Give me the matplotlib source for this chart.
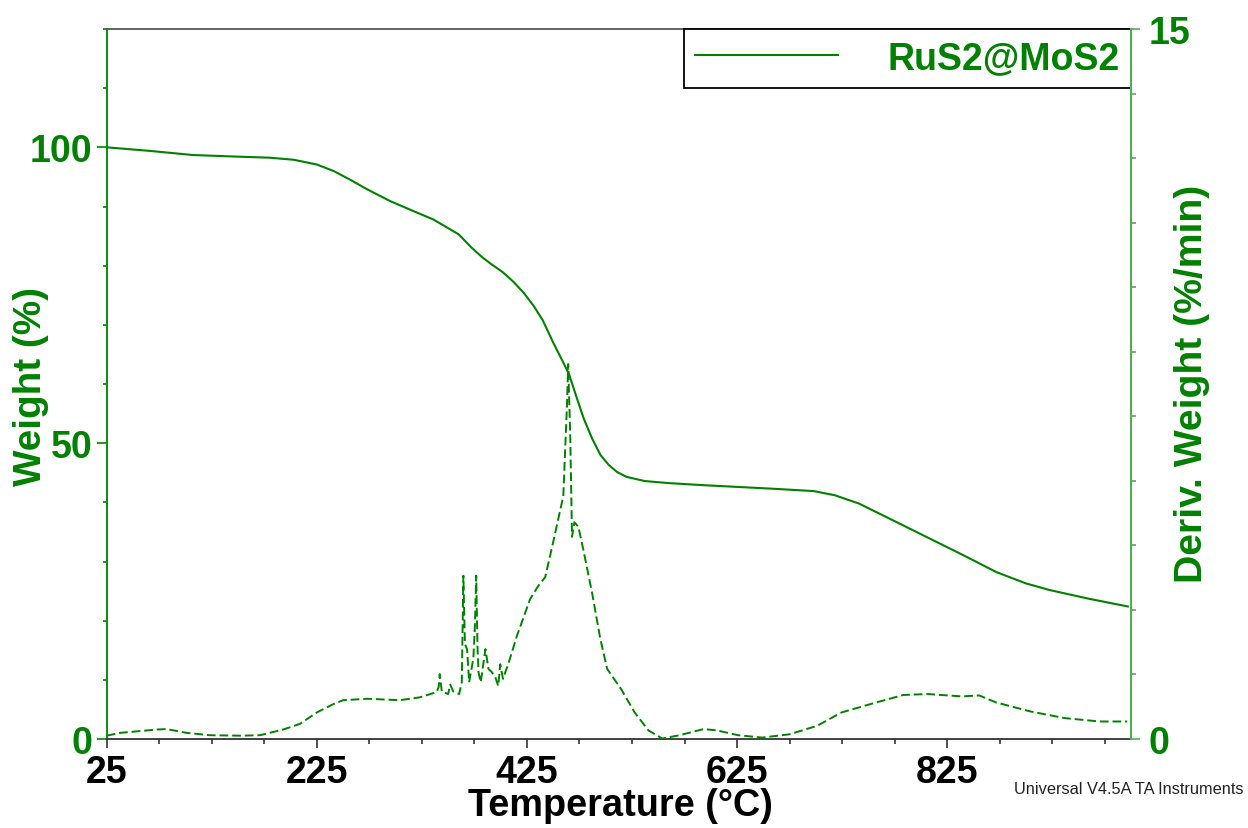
import matplotlib
matplotlib.use("Agg")
import matplotlib.pyplot as plt
import numpy as np

plt.rcParams['font.family'] = ['Liberation Sans', 'DejaVu Sans']

GREEN = '#008000'
LIGHT_GREEN = '#55aa55'

# ---- data ----
temp_w = [25, 66, 107, 146, 180, 203, 225, 241, 257, 273, 295, 316, 336, 360,
          372, 382, 390, 402, 412, 422, 431, 440, 450, 458, 465, 472, 479, 487,
          495, 503, 511, 520, 537, 560, 593, 659, 698, 718, 741, 765, 790, 815,
          840, 872, 900, 922, 960, 997]
weight = [100, 99.4, 98.7, 98.45, 98.25, 97.9, 97.1, 96.0, 94.5, 92.9, 90.9, 89.3,
          87.8, 85.3, 83.1, 81.5, 80.4, 78.9, 77.3, 75.4, 73.3, 70.8, 67.0, 64.2,
          61.7, 57.9, 54.2, 50.8, 48.0, 46.3, 45.1, 44.3, 43.6, 43.25, 42.9, 42.3,
          41.9, 41.2, 39.8, 37.7, 35.5, 33.3, 31.1, 28.2, 26.3, 25.2, 23.7, 22.4]

temp_d = [25, 38, 73, 82, 101, 123, 152, 171, 193, 209, 225, 241, 250, 273, 304,
          323, 339, 341, 342, 344, 350, 352, 355, 360.5, 363, 364.5, 366, 368,
          370, 374, 375.5, 376.7, 378, 379, 381, 385.5, 388.4, 391.7, 395,
          397.7, 399.6, 402.2, 405, 407.2, 415.5, 428.1, 435.7, 442.4, 450,
          459.6, 463.1, 464.3, 466.3, 467.9, 470.2, 474, 478.6, 486.9, 494.9,
          501.4, 514.5, 527.6, 540.7, 553.8, 570.2, 593.2, 606.2, 626, 648.9,
          675, 701.4, 724.3, 757.1, 783.3, 806.2, 839, 855.5, 871.9, 904.6,
          937.4, 970.2, 996.4]
deriv = [0.07, 0.13, 0.20, 0.21, 0.13, 0.08, 0.07, 0.08, 0.20, 0.32, 0.56, 0.74,
         0.82, 0.85, 0.82, 0.88, 0.99, 1.10, 1.37, 1.00, 0.95, 1.15, 1.00, 0.95,
         1.20, 3.45, 2.00, 1.90, 1.20, 1.70, 2.40, 3.45, 1.90, 1.40, 1.20, 1.90,
         1.48, 1.41, 1.30, 1.12, 1.58, 1.27, 1.45, 1.58, 2.18, 2.96, 3.23, 3.42,
         4.16, 5.13, 7.04, 7.92, 6.34, 4.27, 4.58, 4.48, 4.01, 3.10, 2.11, 1.48,
         1.06, 0.56, 0.18, 0.01, 0.08, 0.21, 0.18, 0.08, 0.03, 0.10, 0.28, 0.56,
         0.77, 0.93, 0.95, 0.90, 0.92, 0.77, 0.58, 0.44, 0.37, 0.37]

x_major = [25, 225, 425, 625, 825]
series_label = 'RuS2@MoS2'

# ---- figure ----
W, H = 1248, 829
fig = plt.figure(figsize=(W / 100, H / 100), dpi=100)
x0, x1, y0, y1 = 106.7, 1131, 30, 740
ax = fig.add_axes([x0 / W, 1 - y1 / H, (x1 - x0) / W, (y1 - y0) / H])
ax2 = ax.twinx()

line_w, = ax.plot(temp_w, weight, color=GREEN, lw=1.5, label=series_label)
ax2.plot(temp_d, deriv, color=GREEN, lw=1.4, linestyle=(0, (4.5, 2.0)))

ax.set_xlim(25, 1000)
ax.set_ylim(0, 120)
ax2.set_ylim(0, 15)

# spines
ax.spines['right'].set_visible(False)
ax.spines['left'].set_color(GREEN)
ax.spines['top'].set_color('#555555')
ax.spines['bottom'].set_color('#333333')
for s in ['left', 'top', 'bottom']:
    ax2.spines[s].set_visible(False)
ax2.spines['right'].set_color(LIGHT_GREEN)
for s in ax.spines.values():
    s.set_linewidth(1.3)
ax2.spines['right'].set_linewidth(1.5)

TICK_FS = 27

# x ticks
ax.set_xticks(x_major)
ax.set_xticks(np.arange(25, 1000, 50), minor=True)
ax.tick_params(axis='x', which='major', length=6.5, width=1.2, color='#333333',
               pad=4.5, labelsize=TICK_FS)
ax.tick_params(axis='x', which='minor', length=3.6, width=1.2, color='#333333')
for t in ax.get_xticklabels():
    t.set_fontweight('bold')

# left y ticks
ax.set_yticks([0, 50, 100])
ax.set_yticks(np.arange(0, 121, 10), minor=True)
ax.tick_params(axis='y', which='major', length=7, width=1.2, color=GREEN,
               labelcolor=GREEN, pad=3.4, labelsize=TICK_FS)
ax.tick_params(axis='y', which='minor', length=3, width=1.2, color=GREEN)
for t in ax.get_yticklabels():
    t.set_fontweight('bold')

# right y ticks
ax2.set_yticks([0, 15])
ax2.set_yticks(np.linspace(0, 15, 12), minor=True)
ax2.tick_params(axis='y', which='major', length=6.5, width=1.2, color=LIGHT_GREEN,
                labelcolor=GREEN, pad=6, labelsize=TICK_FS)
ax2.tick_params(axis='y', which='minor', length=3.6, width=1.2, color=LIGHT_GREEN)
for t in ax2.get_yticklabels():
    t.set_fontweight('bold')

# axis labels
ax.set_xlabel('Temperature (°C)', fontsize=27.3, fontweight='bold', color='black',
              va='center')
ax.xaxis.set_label_coords((620.5 - x0) / (x1 - x0), (y1 - 806) / (y1 - y0))
ax.set_ylabel('Weight (%)', fontsize=27.8, fontweight='bold', color=GREEN,
              va='center')
ax.yaxis.set_label_coords((30.5 - x0) / (x1 - x0), (y1 - 387) / (y1 - y0))
ax2.set_ylabel('Deriv. Weight (%/min)', fontsize=28.2, fontweight='bold',
               color=GREEN, va='center', rotation=90)
ax2.yaxis.set_label_coords((1192 - x0) / (x1 - x0), (y1 - 384) / (y1 - y0))

# legend
leg = ax.legend(handles=[line_w], loc='upper right', bbox_to_anchor=(1, 1),
                borderaxespad=0, fancybox=False, framealpha=1,
                edgecolor='black', handlelength=3.79, handletextpad=1.33,
                borderpad=0.3, prop={'size': 27, 'weight': 'bold'},
                labelcolor=GREEN)
leg.get_frame().set_linewidth(1.3)

fig.text(1243 / W, 1 - 790 / H, 'Universal V4.5A TA Instruments',
         ha='right', va='center', fontsize=11.8, color='#222222')

fig.savefig('out.png', dpi=100)
